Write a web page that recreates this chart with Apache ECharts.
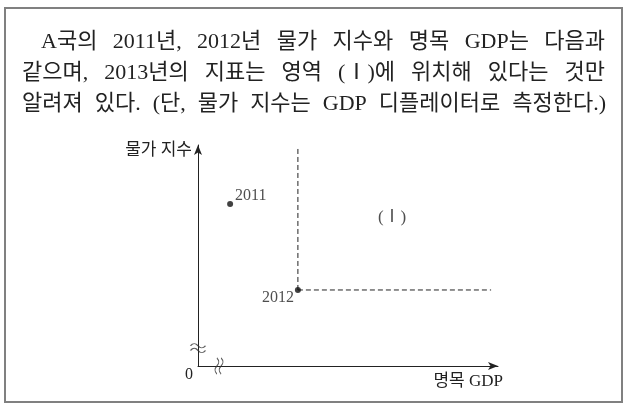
<!DOCTYPE html>
<html>
<head>
<meta charset="utf-8">
<script src="https://cdn.jsdelivr.net/npm/echarts@6/dist/echarts.min.js"></script>
<style>html,body{margin:0;padding:0;background:#fff}#c{width:628px;height:406px}</style>
</head>
<body>
<div id="c"></div>
<script>
// ---- data ----
const titleLines = [
  "A국의 2011년, 2012년 물가 지수와 명목 GDP는 다음과",
  "같으며, 2013년의 지표는 영역 (Ⅰ)에 위치해 있다는 것만",
  "알려져 있다. (단, 물가 지수는 GDP 디플레이터로 측정한다.)"
];
const years = ["2011", "2012"];
const gdpValues = [10.7, 33.3];     // 명목 GDP (relative units)
const priceValues = [73.3, 34.4];   // 물가 지수 (relative units)
const regionLabel = "(Ⅰ)";
const regionLabelPos = [64.7, 67.4];
const regionTopY = 99.5;
const regionRightX = 97.7;
const axisNames = { x: "명목 GDP", y: "물가 지수" };
const originLabel = "0";

// ---- chart ----
const serif = '"Liberation Serif", "Noto Sans CJK KR", serif';
const chart = echarts.init(document.getElementById('c'), null, { renderer: 'canvas' });

// justified title lines
const ctx = document.createElement('canvas').getContext('2d');
const titleSize = 22;
ctx.font = titleSize + 'px ' + serif;
const lineSpec = [ { left: 41, right: 605, y: 42 }, { left: 22, right: 605, y: 73 }, { left: 22, right: 606, y: 104 } ];
const graphics = [];
titleLines.forEach((line, i) => {
  const words = line.split(' ');
  const widths = words.map(w => ctx.measureText(w).width);
  const total = widths.reduce((a, b) => a + b, 0);
  const gap = (lineSpec[i].right - lineSpec[i].left - total) / (words.length - 1);
  let x = lineSpec[i].left;
  words.forEach((w, j) => {
    graphics.push({ type: 'text', style: { text: w, x: x, y: lineSpec[i].y, fontSize: titleSize, fontFamily: serif, fill: '#222', verticalAlign: 'middle', align: 'left' } });
    x += widths[j] + gap;
  });
});
graphics.push({ type: 'rect', shape: { x: 5, y: 8, width: 617, height: 394 }, style: { fill: 'none', stroke: '#808080', lineWidth: 2 } });

const pts = years.map((y, i) => [gdpValues[i], priceValues[i], y]);
const p12 = pts[1];
const wave = 'path://M0,3 C2,0 4,0 6,3 C8,6 10,6 12,3 M0,8 C2,5 4,5 6,8 C8,11 10,11 12,8';

chart.setOption({
  animation: false,
  graphic: graphics,
  grid: { left: 198, top: 145, width: 300, height: 221, containLabel: false },
  xAxis: {
    type: 'value', min: 0, max: 100, interval: 100,
    name: axisNames.x, nameLocation: 'end', nameGap: 0,
    nameTextStyle: { align: 'right', verticalAlign: 'top', padding: [7, -5, 0, 0], fontSize: 17, fontFamily: serif, color: '#222' },
    axisLine: { show: true, symbol: ['none', 'arrow'], symbolSize: [6, 10], lineStyle: { color: '#222', width: 1 } },
    axisTick: { show: false }, splitLine: { show: false },
    axisLabel: { formatter: v => v === 0 ? originLabel : '', align: 'right', verticalAlign: 'top', margin: 1, padding: [0, 5, 0, 0], fontSize: 16, fontFamily: serif, color: '#222' }
  },
  yAxis: {
    type: 'value', min: 0, max: 100, interval: 100,
    name: axisNames.y, nameLocation: 'end', nameGap: 0,
    nameTextStyle: { align: 'right', verticalAlign: 'top', padding: [-3, 6, 0, 0], fontSize: 17, fontFamily: serif, color: '#222' },
    axisLine: { show: true, symbol: ['none', 'arrow'], symbolSize: [6, 10], lineStyle: { color: '#222', width: 1 } },
    axisTick: { show: false }, splitLine: { show: false }, axisLabel: { show: false }
  },
  series: [
    {
      type: 'line', data: [[p12[0], p12[1]], [p12[0], regionTopY]], symbol: 'none',
      lineStyle: { type: [5, 3], color: '#222', width: 1 }, z: 1
    },
    {
      type: 'line', data: [[p12[0], p12[1]], [regionRightX, p12[1]]], symbol: 'none',
      lineStyle: { type: [5, 3], color: '#222', width: 1 }, z: 1
    },
    {
      type: 'scatter', data: pts, symbolSize: 6, itemStyle: { color: '#111' }, z: 3,
      label: {
        show: true, formatter: p => p.data[2], fontSize: 16, fontFamily: serif, color: '#222',
        position: 'right'
      },
      labelLayout: p => p.dataIndex === 0 ? { dx: -3, dy: -8 } : { dx: -44, dy: 8 }
    },
    {
      type: 'scatter', data: [regionLabelPos], symbolSize: 0,
      label: { show: true, formatter: regionLabel, position: 'inside', fontSize: 17, fontFamily: serif, color: '#222' }
    },
    {
      type: 'scatter', symbol: wave, symbolSize: [15, 9], silent: true,
      itemStyle: { color: 'none', borderColor: '#333', borderWidth: 1.2 },
      data: [{ value: [0, 8.1] }, { value: [7, 0], symbolRotate: 90, symbolSize: [16, 8] }]
    }
  ]
});
</script>
</body>
</html>
